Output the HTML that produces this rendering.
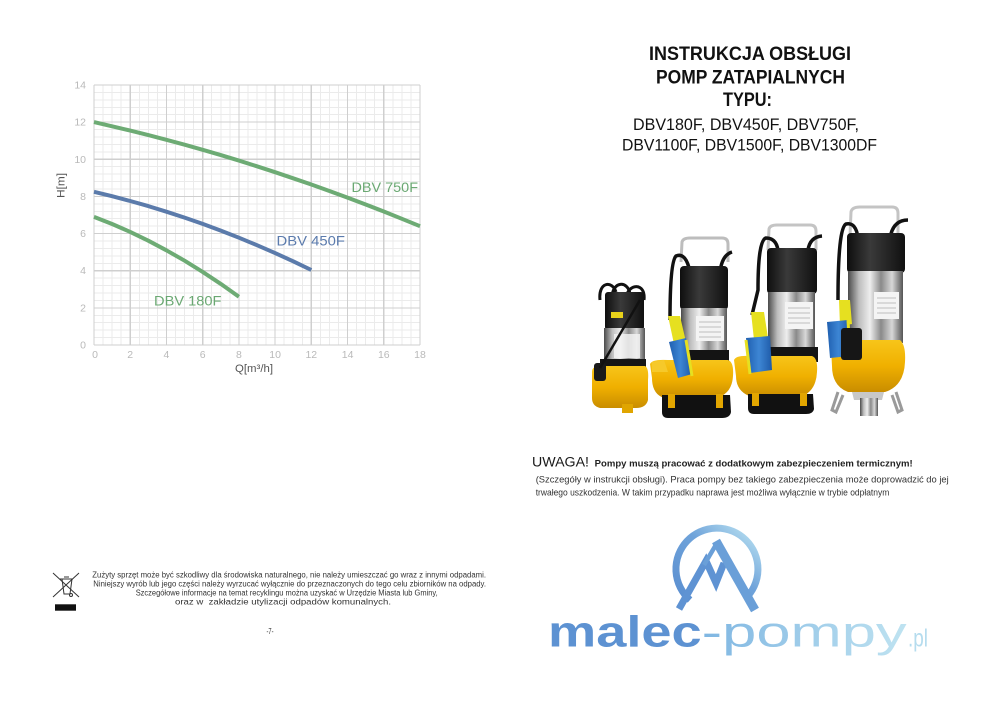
<!DOCTYPE html>
<html><head><meta charset="utf-8"><style>
html,body{margin:0;padding:0;background:#fff;}
svg{display:block;}
text{font-family:"Liberation Sans",Arial,sans-serif;}
</style></head><body>
<svg width="992" height="702" viewBox="0 0 992 702" xmlns="http://www.w3.org/2000/svg">
<defs>
<linearGradient id="steel" x1="0" x2="1" y1="0" y2="0">
<stop offset="0" stop-color="#4a4a4a"/><stop offset="0.2" stop-color="#bdbdbd"/><stop offset="0.4" stop-color="#eeeeee"/><stop offset="0.6" stop-color="#8a8a8a"/><stop offset="0.8" stop-color="#d8d8d8"/><stop offset="1" stop-color="#555"/>
</linearGradient>
<linearGradient id="yel" x1="0" x2="0" y1="0" y2="1">
<stop offset="0" stop-color="#f7c51a"/><stop offset="0.5" stop-color="#f0b000"/><stop offset="1" stop-color="#c98d00"/>
</linearGradient>
<linearGradient id="blk" x1="0" x2="1" y1="0" y2="0">
<stop offset="0" stop-color="#0e0e0e"/><stop offset="0.4" stop-color="#3a3a3a"/><stop offset="1" stop-color="#101010"/>
</linearGradient>
<linearGradient id="blu" x1="0" x2="1" y1="0" y2="0">
<stop offset="0" stop-color="#1f5fb0"/><stop offset="0.5" stop-color="#3d86d4"/><stop offset="1" stop-color="#1e5aa8"/>
</linearGradient>
<linearGradient id="ring" x1="0" y1="1" x2="1" y2="0">
<stop offset="0" stop-color="#5a8ed0"/><stop offset="0.55" stop-color="#6fa3da"/><stop offset="1" stop-color="#bfe6f3"/>
</linearGradient>
<linearGradient id="pomp" x1="0" x2="1" y1="0" y2="0">
<stop offset="0" stop-color="#7fb6e2"/><stop offset="1" stop-color="#bfe3f1"/>
</linearGradient>
</defs>

<!-- ===== CHART ===== -->
<g stroke="#ebebeb" stroke-width="1" shape-rendering="crispEdges">
<path d="M103.06 85V345M112.11 85V345M121.17 85V345M139.28 85V345M148.33 85V345M157.39 85V345M175.5 85V345M184.56 85V345M193.61 85V345M211.72 85V345M220.78 85V345M229.83 85V345M247.94 85V345M257 85V345M266.06 85V345M284.17 85V345M293.22 85V345M302.28 85V345M320.39 85V345M329.44 85V345M338.5 85V345M356.61 85V345M365.67 85V345M374.72 85V345M392.83 85V345M401.89 85V345M410.94 85V345"/>
<path d="M94 337.57H420M94 330.14H420M94 322.71H420M94 315.29H420M94 300.43H420M94 293H420M94 285.57H420M94 278.14H420M94 263.29H420M94 255.86H420M94 248.43H420M94 241H420M94 226.14H420M94 218.71H420M94 211.29H420M94 203.86H420M94 189H420M94 181.57H420M94 174.14H420M94 166.71H420M94 151.86H420M94 144.43H420M94 137H420M94 129.57H420M94 114.71H420M94 107.29H420M94 99.86H420M94 92.43H420"/>
</g>
<g stroke="#cfcfcf" stroke-width="1.2" shape-rendering="crispEdges">
<path d="M94 85V345M130.22 85V345M166.44 85V345M202.67 85V345M238.89 85V345M275.11 85V345M311.33 85V345M347.56 85V345M383.78 85V345M420 85V345"/>
<path d="M94 345H420M94 307.86H420M94 270.71H420M94 233.57H420M94 196.43H420M94 159.29H420M94 122.14H420M94 85H420"/>
</g>
<g fill="#b9b9b9" font-size="10.5" text-anchor="end">
<text x="86" y="348.5">0</text><text x="86" y="311.4">2</text><text x="86" y="274.2">4</text><text x="86" y="237.1">6</text><text x="86" y="199.9">8</text><text x="86" y="162.8">10</text><text x="86" y="125.6">12</text><text x="86" y="88.5">14</text>
</g>
<g fill="#b9b9b9" font-size="10.5" text-anchor="middle">
<text x="95" y="358">0</text><text x="130.2" y="358">2</text><text x="166.4" y="358">4</text><text x="202.7" y="358">6</text><text x="238.9" y="358">8</text><text x="275.1" y="358">10</text><text x="311.3" y="358">12</text><text x="347.6" y="358">14</text><text x="383.8" y="358">16</text><text x="420" y="358">18</text>
</g>
<text x="235" y="372" font-size="11" fill="#555" textLength="38" lengthAdjust="spacingAndGlyphs">Q[m³/h]</text>
<text x="0" y="0" font-size="11" fill="#555" transform="translate(64.5 198) rotate(-90)" textLength="25" lengthAdjust="spacingAndGlyphs">H[m]</text>

<g fill="none" stroke-width="4" stroke-linejoin="round" stroke-linecap="butt">
<polyline stroke="#6dab74" points="94,122.1 112.1,126.3 130.2,130.6 148.3,135.1 166.4,139.8 184.6,144.7 202.7,149.8 220.8,155.1 238.9,160.6 257,166.3 275.1,172.2 293.2,178.3 311.3,184.5 329.4,191 347.5,197.6 365.7,204.5 383.8,211.5 401.9,218.8 420,226.2"/>
<polyline stroke="#5b7bab" points="94,191.8 112.1,196.2 130.2,201 148.3,206.1 166.4,211.7 184.6,217.6 202.7,223.9 220.8,230.6 238.9,237.7 257,245.2 275.1,253.1 293.2,261.3 311.3,270"/>
<polyline stroke="#6dab74" points="94,216.9 112.1,224 130.2,231.9 148.3,240.7 166.4,250.3 184.6,260.7 202.7,271.9 220.8,283.9 238.9,296.7"/>
</g>
<text x="351.5" y="192" font-size="14" fill="#6aa872" textLength="66.5" lengthAdjust="spacingAndGlyphs">DBV 750F</text>
<text x="276.5" y="245.5" font-size="14" fill="#5b7bad" textLength="68.5" lengthAdjust="spacingAndGlyphs">DBV 450F</text>
<text x="154" y="305.5" font-size="14" fill="#6aa872" textLength="67.5" lengthAdjust="spacingAndGlyphs">DBV 180F</text>

<!-- ===== TITLE ===== -->
<g fill="#111">
<text x="649" y="60" font-size="19.5" font-weight="bold" textLength="202" lengthAdjust="spacingAndGlyphs">INSTRUKCJA OBSŁUGI</text>
<text x="656" y="83.3" font-size="19.5" font-weight="bold" textLength="189" lengthAdjust="spacingAndGlyphs">POMP ZATAPIALNYCH</text>
<text x="723" y="106" font-size="19.5" font-weight="bold" textLength="49" lengthAdjust="spacingAndGlyphs">TYPU:</text>
<text x="633" y="130" font-size="16.2" textLength="226" lengthAdjust="spacingAndGlyphs">DBV180F, DBV450F, DBV750F,</text>
<text x="622" y="150.7" font-size="16.2" textLength="255" lengthAdjust="spacingAndGlyphs">DBV1100F, DBV1500F, DBV1300DF</text>
</g>

<!-- ===== PUMPS ===== -->
<!-- pump 1 -->
<g>
<path d="M600 300 C598 282 612 280 616 292 M612 298 C612 281 628 280 630 294 M626 298 C628 283 646 282 644 300" fill="none" stroke="#111" stroke-width="3"/>
<rect x="605" y="292" width="39" height="38" rx="3" fill="url(#blk)"/>
<rect x="611" y="312" width="12" height="6" fill="#e8d21a"/>
<rect x="604" y="328" width="41" height="34" fill="url(#steel)"/>
<rect x="614" y="334" width="26" height="24" fill="#f2f2f2" opacity="0.85"/>
<rect x="600" y="359" width="46" height="13" fill="#151515"/>
<path d="M592 372 Q592 366 600 366 L645 366 Q649 368 648 380 L648 400 Q646 408 636 408 L600 408 Q592 406 592 398 Z" fill="url(#yel)"/>
<rect x="622" y="404" width="11" height="9" fill="#e0a500"/>
<rect x="594" y="363" width="12" height="18" rx="3" fill="#1a1a1a"/>
<path d="M640 300 L600 368" stroke="#111" stroke-width="2.5"/>
</g>
<!-- pump 2 -->
<g>
<path d="M681 262 L682 242 Q683 238 690 238 L722 238 Q728 238 728 244 L728 262" fill="none" stroke="#bdbdbd" stroke-width="3"/>
<path d="M690 272 Q686 252 676 256 Q670 262 670 320 M720 272 Q722 255 732 252" fill="none" stroke="#111" stroke-width="3.5"/>
<rect x="680" y="266" width="48" height="44" rx="4" fill="url(#blk)"/>
<rect x="681" y="308" width="46" height="44" fill="url(#steel)"/>
<rect x="696" y="316" width="28" height="25" fill="#f4f4f4"/>
<g stroke="#888" stroke-width="0.6"><path d="M699 322H721M699 327H721M699 332H721M699 337H721"/></g>
<rect x="679" y="350" width="50" height="18" fill="#141414"/>
<path d="M650 364 Q652 359 668 360 L728 360 Q734 362 733 376 Q732 394 716 398 L664 398 Q652 394 652 378 Z" fill="url(#yel)"/>
<path d="M652 362 L664 360 L668 372 L652 372 Z" fill="#f6c92a"/>
<path d="M662 395 L730 395 L731 412 Q730 418 722 418 L668 418 Q662 418 662 412 Z" fill="#111"/>
<rect x="668" y="394" width="7" height="14" fill="#e3a600"/><rect x="716" y="394" width="7" height="14" fill="#e3a600"/>
<path d="M668 316 L680 316 L686 342 L674 344 Z" fill="#e6e020"/>
<path d="M669 342 L686 338 L692 374 L678 378 Z" fill="url(#blu)"/>
<path d="M686 340 L692 376" stroke="#e6e020" stroke-width="3"/>
</g>
<!-- pump 3 -->
<g>
<path d="M768 250 L769 229 Q770 225 777 225 L810 225 Q816 225 816 231 L816 250" fill="none" stroke="#c4c4c4" stroke-width="3"/>
<path d="M778 250 Q776 238 766 238 Q758 240 758 290 L752 315 M808 250 Q810 237 822 236" fill="none" stroke="#111" stroke-width="3.5"/>
<rect x="767" y="248" width="50" height="46" rx="4" fill="url(#blk)"/>
<rect x="768" y="292" width="47" height="58" fill="url(#steel)"/>
<rect x="785" y="302" width="28" height="27" fill="#f4f4f4"/>
<g stroke="#888" stroke-width="0.6"><path d="M788 308H810M788 313H810M788 318H810M788 323H810"/></g>
<rect x="766" y="347" width="52" height="15" fill="#141414"/>
<path d="M734 360 Q736 355 750 356 L812 356 Q818 358 817 372 Q816 392 800 397 L752 397 Q736 392 736 376 Z" fill="url(#yel)"/>
<path d="M748 394 L813 394 L814 409 Q813 414 806 414 L754 414 Q748 414 748 408 Z" fill="#111"/>
<rect x="752" y="393" width="7" height="13" fill="#e3a600"/><rect x="800" y="393" width="7" height="13" fill="#e3a600"/>
<path d="M751 312 L764 312 L768 338 L754 340 Z" fill="#e6e020"/>
<path d="M746 338 L770 336 L772 370 L750 373 Z" fill="url(#blu)"/>
<path d="M746 340 L750 374" stroke="#e6e020" stroke-width="3"/>
</g>
<!-- pump 4 -->
<g>
<path d="M850 236 L851 212 Q852 207 860 207 L892 207 Q898 207 898 213 L898 236" fill="none" stroke="#c4c4c4" stroke-width="3"/>
<path d="M858 238 Q856 222 846 224 Q838 228 838 300 M890 238 Q893 220 908 220" fill="none" stroke="#111" stroke-width="3.5"/>
<rect x="847" y="233" width="58" height="40" rx="4" fill="url(#blk)"/>
<rect x="848" y="271" width="55" height="72" fill="url(#steel)"/>
<rect x="874" y="292" width="25" height="27" fill="#f4f4f4"/>
<g stroke="#888" stroke-width="0.6"><path d="M877 298H896M877 303H896M877 308H896M877 313H896"/></g>
<path d="M831 348 Q834 340 850 340 L900 340 Q906 345 905 362 Q904 386 885 392 L848 392 Q832 386 832 366 Z" fill="url(#yel)"/>
<path d="M838 392 L832 410 L836 412 L843 395 M896 392 L902 410 L898 412 L892 395" fill="none" stroke="#9a9a9a" stroke-width="3"/>
<path d="M852 392 L884 392 L882 400 L854 400 Z" fill="#c8c8c8"/>
<rect x="860" y="398" width="18" height="18" fill="url(#steel)"/>
<path d="M839 300 L850 300 L852 324 L840 326 Z" fill="#e6e020"/>
<path d="M827 322 L848 320 L850 356 L830 358 Z" fill="url(#blu)"/>
<path d="M848 320 L850 356" stroke="#e6e020" stroke-width="3"/>
<rect x="841" y="328" width="21" height="32" rx="3" fill="#161616"/>
</g>

<!-- ===== WARNING ===== -->
<text x="532" y="466.7" font-size="13.5" fill="#1a1a1a" textLength="57" lengthAdjust="spacingAndGlyphs">UWAGA!</text>
<text x="594.7" y="466.7" font-size="9.5" font-weight="bold" fill="#222" textLength="318" lengthAdjust="spacingAndGlyphs">Pompy muszą pracować z dodatkowym zabezpieczeniem termicznym!</text>
<text x="535.7" y="482.3" font-size="9.5" fill="#333" textLength="413" lengthAdjust="spacingAndGlyphs">(Szczegóły w instrukcji obsługi). Praca pompy bez takiego zabezpieczenia może doprowadzić do jej</text>
<text x="535.7" y="495.3" font-size="9.5" fill="#333" textLength="353.6" lengthAdjust="spacingAndGlyphs">trwałego uszkodzenia. W takim przypadku naprawa jest możliwa wyłącznie w trybie odpłatnym</text>

<!-- ===== WEEE ===== -->
<g stroke="#333" stroke-width="1" fill="none">
<path d="M53 573 L79 597 M79 573 L53 597"/>
<path d="M60 579 H73 M62 579 L64 594 H70 L72 579 M64 577 H69"/>
<circle cx="71" cy="595" r="1.5"/>
</g>
<rect x="55" y="604.3" width="21" height="6.4" fill="#111"/>
<g font-size="8" fill="#333">
<text x="92.3" y="577.3" textLength="393.7" lengthAdjust="spacingAndGlyphs">Zużyty sprzęt może być szkodliwy dla środowiska naturalnego, nie należy umieszczać go wraz z innymi odpadami.</text>
<text x="93.3" y="586.7" textLength="392.7" lengthAdjust="spacingAndGlyphs">Niniejszy wyrób lub jego części należy wyrzucać wyłącznie do przeznaczonych do tego celu zbiorników na odpady.</text>
<text x="135.7" y="595.7" textLength="302" lengthAdjust="spacingAndGlyphs">Szczegółowe informacje na temat recyklingu można uzyskać w Urzędzie Miasta lub Gminy,</text>
<text x="175" y="604.7" font-size="8.6" textLength="216" lengthAdjust="spacingAndGlyphs">oraz w&#160; zakładzie utylizacji odpadów komunalnych.</text>
<text x="266.5" y="634" textLength="7" lengthAdjust="spacingAndGlyphs">-7-</text>
</g>

<!-- ===== LOGO ===== -->
<path d="M690 600 A41 41 0 1 1 745 599" fill="none" stroke="url(#ring)" stroke-width="7"/>
<g stroke-linecap="butt" fill="none">
<path d="M679 609 L706 561 L716 583 L724 563" stroke="#5f93d3" stroke-width="7" stroke-linejoin="miter"/>
<path d="M716 541 L755 610" stroke="#6a9fd8" stroke-width="9"/>
<path d="M717 543 L704 565" stroke="#6a9fd8" stroke-width="4.5"/>
</g>
<text x="548" y="646.7" font-size="44" font-weight="bold" fill="#5d92d2" textLength="153.7" lengthAdjust="spacingAndGlyphs">malec</text>
<text x="701.7" y="646.7" font-size="43" fill="url(#pomp)" textLength="205" lengthAdjust="spacingAndGlyphs">-pompy</text>
<text x="908" y="646.7" font-size="25" fill="#b5dcee" textLength="20" lengthAdjust="spacingAndGlyphs">.pl</text>
</svg>
</body></html>
